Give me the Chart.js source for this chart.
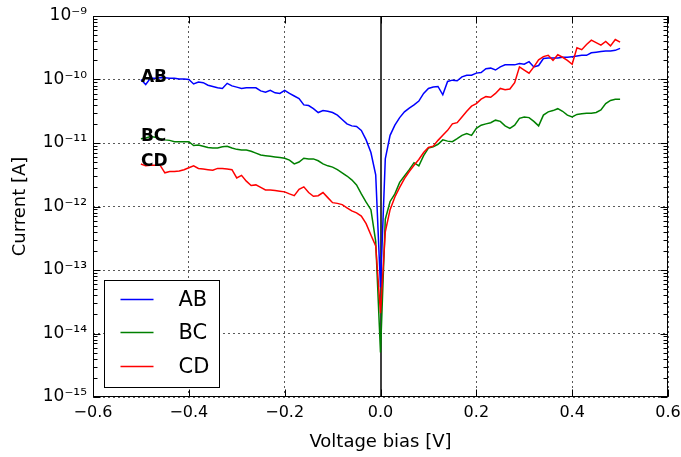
<!DOCTYPE html>
<html>
<head>
<meta charset="utf-8">
<script src="https://cdn.jsdelivr.net/npm/chart.js@4.4.0/dist/chart.umd.min.js"></script>
<style>
html,body{margin:0;padding:0;background:#fff}
#wrap{width:681px;height:457px}
</style>
</head>
<body>
<div id="wrap"><canvas id="c" width="681" height="457"></canvas></div>
<script>
// ---- data ----
const volts = [
 -0.50,-0.49,-0.48,-0.47,-0.46,-0.45,-0.44,-0.43,-0.42,-0.41,
 -0.40,-0.39,-0.38,-0.37,-0.36,-0.35,-0.34,-0.33,-0.32,-0.31,
 -0.30,-0.29,-0.28,-0.27,-0.26,-0.25,-0.24,-0.23,-0.22,-0.21,
 -0.20,-0.19,-0.18,-0.17,-0.16,-0.15,-0.14,-0.13,-0.12,-0.11,
 -0.10,-0.09,-0.08,-0.07,-0.06,-0.05,-0.04,-0.03,-0.02,-0.01,
 0.00,
 0.01,0.02,0.03,0.04,0.05,0.06,0.07,0.08,0.09,0.10,
 0.11,0.12,0.13,0.14,0.15,0.16,0.17,0.18,0.19,0.20,
 0.21,0.22,0.23,0.24,0.25,0.26,0.27,0.28,0.29,0.30,
 0.31,0.32,0.33,0.34,0.35,0.36,0.37,0.38,0.39,0.40,
 0.41,0.42,0.43,0.44,0.45,0.46,0.47,0.48,0.49,0.50
];
const currentAB = [
 1.00e-10,8.32e-11,1.05e-10,1.05e-10,1.07e-10,1.07e-10,1.05e-10,1.05e-10,1.02e-10,1.02e-10,
 1.00e-10,8.51e-11,9.12e-11,8.91e-11,8.13e-11,7.76e-11,7.41e-11,7.24e-11,8.71e-11,7.94e-11,
 7.59e-11,7.24e-11,7.41e-11,7.41e-11,7.41e-11,6.61e-11,6.31e-11,6.76e-11,6.17e-11,6.03e-11,
 6.76e-11,6.03e-11,5.50e-11,5.01e-11,3.98e-11,3.89e-11,3.47e-11,3.02e-11,3.24e-11,3.16e-11,
 3.02e-11,2.75e-11,2.34e-11,2.00e-11,1.86e-11,1.82e-11,1.58e-11,1.12e-11,7.08e-12,3.16e-12,
 5.37e-14,
 5.62e-12,1.32e-11,1.91e-11,2.51e-11,3.09e-11,3.55e-11,3.98e-11,4.57e-11,6.03e-11,7.24e-11,
 7.59e-11,7.76e-11,5.75e-11,9.33e-11,9.77e-11,9.55e-11,1.10e-10,1.17e-10,1.17e-10,1.26e-10,
 1.29e-10,1.48e-10,1.51e-10,1.41e-10,1.58e-10,1.70e-10,1.70e-10,1.70e-10,1.78e-10,1.74e-10,
 1.91e-10,1.58e-10,1.66e-10,2.14e-10,2.19e-10,2.19e-10,2.19e-10,2.24e-10,2.24e-10,2.29e-10,
 2.34e-10,2.40e-10,2.40e-10,2.63e-10,2.69e-10,2.75e-10,2.82e-10,2.82e-10,2.88e-10,3.09e-10
];
const currentBC = [
 1.17e-11,1.20e-11,1.26e-11,1.23e-11,1.17e-11,1.12e-11,1.10e-11,1.05e-11,1.05e-11,1.05e-11,
 1.05e-11,9.12e-12,9.33e-12,8.91e-12,8.51e-12,8.32e-12,8.32e-12,8.71e-12,8.91e-12,8.32e-12,
 7.94e-12,7.76e-12,7.76e-12,7.41e-12,6.92e-12,6.46e-12,6.31e-12,6.17e-12,6.03e-12,5.89e-12,
 5.75e-12,5.37e-12,4.68e-12,5.01e-12,5.75e-12,5.62e-12,5.62e-12,5.25e-12,4.68e-12,4.37e-12,
 4.17e-12,3.80e-12,3.39e-12,3.02e-12,2.63e-12,2.19e-12,1.58e-12,1.17e-12,8.91e-13,2.82e-13,
 5.01e-15,
 6.31e-13,1.20e-12,1.58e-12,2.40e-12,3.02e-12,3.80e-12,4.90e-12,4.37e-12,6.31e-12,8.32e-12,
 8.71e-12,9.55e-12,1.12e-11,1.07e-11,1.05e-11,1.17e-11,1.32e-11,1.41e-11,1.32e-11,1.70e-11,
 1.91e-11,2.00e-11,2.09e-11,2.29e-11,2.19e-11,1.86e-11,1.70e-11,1.91e-11,2.45e-11,2.57e-11,
 2.51e-11,2.19e-11,1.86e-11,2.75e-11,3.09e-11,3.24e-11,3.47e-11,3.16e-11,2.75e-11,2.57e-11,
 2.82e-11,2.88e-11,2.95e-11,2.95e-11,3.02e-11,3.31e-11,4.17e-11,4.68e-11,4.90e-11,4.90e-11
];
const currentCD = [
 4.68e-12,4.37e-12,4.47e-12,4.47e-12,4.47e-12,3.39e-12,3.55e-12,3.55e-12,3.63e-12,3.80e-12,
 4.07e-12,4.37e-12,3.98e-12,3.89e-12,3.80e-12,3.72e-12,3.98e-12,3.98e-12,3.89e-12,3.80e-12,
 2.82e-12,3.09e-12,2.51e-12,2.14e-12,2.19e-12,2.00e-12,1.82e-12,1.82e-12,1.78e-12,1.74e-12,
 1.70e-12,1.58e-12,1.48e-12,1.86e-12,2.04e-12,1.66e-12,1.45e-12,1.48e-12,1.66e-12,1.38e-12,
 1.15e-12,1.12e-12,1.07e-12,9.55e-13,8.51e-13,7.94e-13,7.08e-13,5.37e-13,3.55e-13,2.40e-13,
 2.09e-14,
 3.98e-13,8.91e-13,1.41e-12,2.00e-12,2.75e-12,3.55e-12,4.47e-12,5.50e-12,7.08e-12,8.51e-12,
 8.91e-12,1.10e-11,1.32e-11,1.58e-11,2.00e-11,2.09e-11,2.57e-11,3.16e-11,3.80e-11,4.17e-11,
 4.90e-11,5.37e-11,5.25e-11,6.03e-11,7.24e-11,6.92e-11,7.08e-11,8.91e-11,1.58e-10,1.41e-10,
 1.26e-10,1.58e-10,2.04e-10,2.29e-10,2.40e-10,2.00e-10,2.45e-10,2.24e-10,2.00e-10,1.74e-10,
 3.16e-10,2.95e-10,3.55e-10,4.17e-10,3.80e-10,3.47e-10,3.98e-10,3.39e-10,4.27e-10,3.89e-10
];
const seriesNames = ['AB','BC','CD'];
const seriesColors = ['#0000ff','#008000','#ff0000'];
const xTickValues = [-0.6,-0.4,-0.2,0.0,0.2,0.4,0.6];
const yTickExponents = [-15,-14,-13,-12,-11,-10,-9];
const xTitle = 'Voltage bias [V]';
const yTitle = 'Current [A]';

// ---- helpers ----
const FAM = "'DejaVu Sans', 'Liberation Sans', sans-serif";
const SUP = {'-':'\u207B','0':'\u2070','1':'\u00B9','2':'\u00B2','3':'\u00B3','4':'\u2074','5':'\u2075','6':'\u2076','7':'\u2077','8':'\u2078','9':'\u2079'};
function decadeLabel(e){ return '10' + String(e).split('').map(c => SUP[c]).join(''); }
function xLabel(v){ if (Math.abs(v) < 1e-9) return '0.0'; return (v < 0 ? '\u2212' : '') + Math.abs(v).toFixed(1); }

const allSeries = [currentAB, currentBC, currentCD];

const decoPlugin = {
  id: 'deco',
  beforeDatasetsDraw(chart) {
    const {ctx, chartArea: a, scales: {x}} = chart;
    const px = Math.round(x.getPixelForValue(0));
    ctx.save();
    ctx.strokeStyle = '#404040';
    ctx.lineWidth = 2;
    ctx.beginPath(); ctx.moveTo(px, a.top); ctx.lineTo(px, a.bottom); ctx.stroke();
    ctx.restore();
  },
  afterDatasetsDraw(chart) {
    const {ctx, chartArea: a, scales: {x, y}} = chart;
    ctx.save();
    // annotations
    ctx.font = 'bold 17px ' + FAM;
    ctx.fillStyle = '#000';
    ctx.textBaseline = 'alphabetic';
    ctx.textAlign = 'left';
    allSeries.forEach((s, i) => {
      ctx.fillText(seriesNames[i], x.getPixelForValue(volts[0]), y.getPixelForValue(s[0]) + 2);
    });
    // ticks
    ctx.strokeStyle = '#000';
    ctx.lineWidth = 1;
    ctx.beginPath();
    const L = Math.round(a.left) + 0.5, R = Math.round(a.right) - 0.5;
    const T = Math.round(a.top) + 0.5, B = Math.round(a.bottom) - 0.5;
    xTickValues.forEach(v => {
      const px = Math.round(x.getPixelForValue(v)) + 0.5;
      ctx.moveTo(px, B); ctx.lineTo(px, B - 7);
      ctx.moveTo(px, T); ctx.lineTo(px, T + 7);
    });
    yTickExponents.forEach(e => {
      const py = Math.round(y.getPixelForValue(Math.pow(10, e))) + 0.5;
      ctx.moveTo(L, py); ctx.lineTo(L + 7, py);
      ctx.moveTo(R, py); ctx.lineTo(R - 7, py);
      if (e < yTickExponents[yTickExponents.length - 1]) {
        for (let k = 2; k <= 9; k++) {
          const pm = Math.round(y.getPixelForValue(k * Math.pow(10, e))) + 0.5;
          ctx.moveTo(L, pm); ctx.lineTo(L + 4, pm);
          ctx.moveTo(R, pm); ctx.lineTo(R - 4, pm);
        }
      }
    });
    ctx.stroke();
    // frame
    ctx.strokeRect(L, T, R - L, B - T);
    // legend
    const bw = 115, bh = 107;
    const bx = Math.round(a.left) + 11 + 0.5, by = Math.round(a.bottom) - 10 - bh + 0.5;
    ctx.fillStyle = '#fff';
    ctx.fillRect(bx, by, bw, bh);
    ctx.strokeStyle = '#000';
    ctx.lineWidth = 1;
    ctx.strokeRect(bx, by, bw, bh);
    const rows = [19, 52, 86];
    ctx.font = '21px ' + FAM;
    ctx.textBaseline = 'middle';
    chart.data.datasets.forEach((ds, i) => {
      const yy = by + rows[i];
      ctx.strokeStyle = ds.borderColor;
      ctx.lineWidth = 1.5;
      ctx.beginPath(); ctx.moveTo(bx + 16, yy); ctx.lineTo(bx + 49, yy); ctx.stroke();
      ctx.fillStyle = '#000';
      ctx.fillText(ds.label, bx + 74, yy + 1);
    });
    ctx.restore();
  }
};

const gridColor = 'rgba(0,0,0,0.65)';

new Chart(document.getElementById('c').getContext('2d'), {
  type: 'line',
  data: {
    datasets: allSeries.map((s, i) => ({
      label: seriesNames[i],
      data: volts.map((v, j) => ({x: v, y: s[j]})),
      borderColor: seriesColors[i],
      backgroundColor: seriesColors[i],
      borderWidth: 1.5,
      pointRadius: 0,
      tension: 0,
      fill: false,
      order: 3 - i
    }))
  },
  options: {
    responsive: false,
    animation: false,
    devicePixelRatio: 1,
    layout: {padding: {left: 0, right: 13, top: 16, bottom: 0}},
    plugins: {legend: {display: false}, tooltip: {enabled: false}},
    scales: {
      x: {
        type: 'linear', min: -0.6, max: 0.6,
        afterBuildTicks: s => { s.ticks = xTickValues.map(v => ({value: v})); },
        afterFit: s => { s.height = 60; s.paddingLeft = 0; s.paddingRight = 0; },
        ticks: {autoSkip: false, maxRotation: 0, padding: 6, color: '#000',
                font: {family: FAM, size: 16}, callback: v => xLabel(v)},
        grid: {color: gridColor, lineWidth: 1, drawTicks: false},
        border: {display: false, dash: [2, 3]},
        title: {display: true, text: xTitle, color: '#000', font: {family: FAM, size: 18},
                padding: {top: 0, bottom: 4}}
      },
      y: {
        type: 'logarithmic', min: 1e-15, max: 1e-9,
        afterBuildTicks: s => { s.ticks = yTickExponents.map(e => ({value: Math.pow(10, e)})); },
        afterFit: s => { s.width = 93; s.paddingTop = 0; s.paddingBottom = 0; },
        ticks: {autoSkip: false, padding: 6, color: '#000',
                font: {family: FAM, size: 17},
                callback: v => decadeLabel(Math.round(Math.log10(v)))},
        grid: {color: gridColor, lineWidth: 1, drawTicks: false},
        border: {display: false, dash: [2, 3]},
        title: {display: true, text: yTitle, color: '#000', font: {family: FAM, size: 18},
                padding: {top: 10, bottom: 0}}
      }
    }
  },
  plugins: [decoPlugin]
});
</script>
</body>
</html>
